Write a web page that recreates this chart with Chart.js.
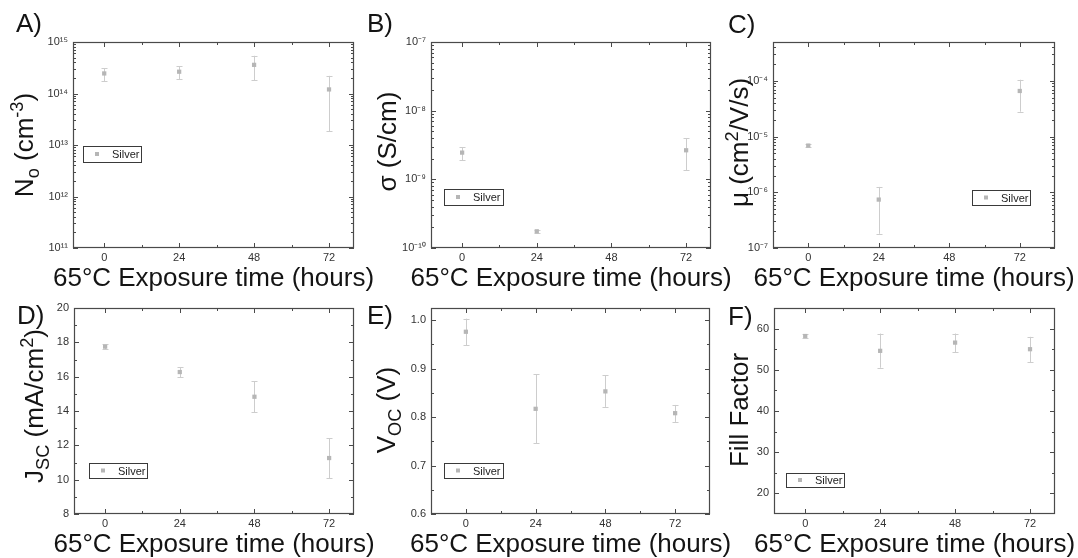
<!DOCTYPE html>
<html><head><meta charset="utf-8">
<script src="https://cdn.jsdelivr.net/npm/chart.js@4.4.1/dist/chart.umd.min.js"></script>
<style>
html,body{margin:0;padding:0;background:#fff;}
#wrap{position:relative;width:1078px;height:558px;overflow:hidden;background:#fff;}
#wrap canvas{position:absolute;left:0;top:0;}
</style></head><body><div id="wrap"></div>
<script>
// ---------------- data ----------------
const hours = [0, 24, 48, 72];
const hoursHall = [0, 24, 72];
const xTickValues = [0, 24, 48, 72];
const xMinorValues = [12, 36, 60];
const seriesLabel = 'Silver';
const xTitle = '65°C Exposure time (hours)';

const carrierDensity     = [2.45e14, 2.65e14, 3.6e14, 1.2e14];
const carrierDensityLow  = [1.75e14, 1.9e14, 1.8e14, 1.85e13];
const carrierDensityHigh = [3.1e14, 3.4e14, 5.4e14, 2.2e14];

const conductivity     = [2.45e-9, 1.75e-10, 2.65e-9];
const conductivityLow  = [1.9e-9, 1.65e-10, 1.35e-9];
const conductivityHigh = [2.95e-9, 1.85e-10, 3.95e-9];

const mobility     = [6.9e-6, 7.4e-7, 6.6e-5];
const mobilityLow  = [6.4e-6, 1.8e-7, 2.8e-5];
const mobilityHigh = [7.4e-6, 1.25e-6, 1.05e-4];

const jsc     = [17.75, 16.27, 14.83, 11.26];
const jscLow  = [17.6, 15.98, 13.94, 10.08];
const jscHigh = [17.9, 16.56, 15.73, 12.41];

const voc     = [0.976, 0.817, 0.853, 0.808];
const vocLow  = [0.948, 0.746, 0.821, 0.790];
const vocHigh = [1.003, 0.888, 0.886, 0.825];

const fillFactor     = [58.2, 54.6, 56.6, 55.0];
const fillFactorLow  = [57.7, 50.5, 54.2, 51.9];
const fillFactorHigh = [58.7, 58.8, 58.8, 58.0];

const yTicksA = [1e11, 1e12, 1e13, 1e14, 1e15];
const yTicksB = [1e-10, 1e-9, 1e-8, 1e-7];
const yTicksC = [1e-7, 1e-6, 1e-5, 1e-4];
const yTicksD = [8, 10, 12, 14, 16, 18, 20];
const yTicksE = [0.6, 0.7, 0.8, 0.9, 1.0];
const yTicksF = [20, 30, 40, 50, 60];
const yMinorD = [9, 11, 13, 15, 17, 19];
const yMinorE = [0.65, 0.75, 0.85, 0.95];
const yMinorF = [25, 35, 45, 55];

// ---------------- helpers ----------------
const FONT = "'Liberation Sans', Arial, Helvetica, sans-serif";
const W = 1078, H = 558;
Chart.defaults.font.family = FONT;

const SUP = {'0':'⁰','1':'¹','2':'²','3':'³','4':'⁴','5':'⁵','6':'⁶','7':'⁷','8':'⁸','9':'⁹','-':'⁻'};
function powLabel(v) {
  const e = String(Math.round(Math.log10(v)));
  return '10' + e.split('').map(c => SUP[c]).join('');
}
function logMinors(min, max) {
  const out = [];
  for (let d = Math.floor(Math.log10(min)); d <= Math.ceil(Math.log10(max)); d++) {
    for (let m = 2; m <= 9; m++) {
      const v = m * Math.pow(10, d);
      if (v > min && v < max) out.push(v);
    }
  }
  return out;
}
function partsWidth(ctx, parts, size) {
  let w = 0;
  for (const [t, mode] of parts) {
    ctx.font = (mode ? size * 0.7 : size) + 'px ' + FONT;
    w += ctx.measureText(t).width;
  }
  return w;
}
function drawParts(ctx, parts, size, x, y) {
  let cx = x;
  for (const [t, mode] of parts) {
    const s = mode ? size * 0.7 : size;
    ctx.font = s + 'px ' + FONT;
    const dy = mode === 'sub' ? size * 0.22 : (mode === 'sup' ? -size * 0.38 : 0);
    ctx.fillText(t, cx, y + dy);
    cx += ctx.measureText(t).width;
  }
}

const decoPlugin = {
  id: 'deco',
  beforeDatasetsDraw(chart) {
    const o = chart.options.plugins.deco;
    const ctx = chart.ctx, xs = chart.scales.x, ys = chart.scales.y;
    ctx.save();
    ctx.strokeStyle = '#cdcdcd';
    ctx.lineWidth = 1;
    chart.data.datasets[0].data.forEach((p, i) => {
      const x = Math.round(xs.getPixelForValue(p.x)) + 0.5;
      const y1 = ys.getPixelForValue(o.low[i]);
      const y2 = ys.getPixelForValue(o.high[i]);
      ctx.beginPath();
      ctx.moveTo(x, y1); ctx.lineTo(x, y2);
      ctx.moveTo(x - 3, Math.round(y1) + 0.5); ctx.lineTo(x + 3, Math.round(y1) + 0.5);
      ctx.moveTo(x - 3, Math.round(y2) + 0.5); ctx.lineTo(x + 3, Math.round(y2) + 0.5);
      ctx.stroke();
    });
    ctx.restore();
  },
  afterDraw(chart) {
    const o = chart.options.plugins.deco;
    const ctx = chart.ctx, ca = chart.chartArea, xs = chart.scales.x, ys = chart.scales.y;
    ctx.save();
    // frame
    ctx.strokeStyle = '#4a4a4a';
    ctx.lineWidth = 1.2;
    ctx.strokeRect(ca.left + 0.5, ca.top + 0.5, ca.right - ca.left - 1, ca.bottom - ca.top - 1);
    ctx.lineWidth = 1;
    const line = (a, b, c, d) => { ctx.beginPath(); ctx.moveTo(a, b); ctx.lineTo(c, d); ctx.stroke(); };
    const vt = (v, len) => { const px = Math.round(xs.getPixelForValue(v)) + 0.5;
      line(px, ca.bottom, px, ca.bottom - len); line(px, ca.top, px, ca.top + len); };
    const ht = (v, len) => { const py = Math.round(ys.getPixelForValue(v)) + 0.5;
      line(ca.left, py, ca.left + len, py); line(ca.right, py, ca.right - len, py); };
    xs.ticks.forEach(t => vt(t.value, 5));
    xMinorValues.forEach(v => vt(v, 3));
    ys.ticks.forEach(t => ht(t.value, 5));
    (o.yMinor || []).forEach(v => ht(v, 3));
    // legend
    const lg = o.legend;
    const lx = ca.left + lg.dx, ly = ca.top + lg.dy;
    ctx.fillStyle = '#fff';
    ctx.fillRect(lx, ly, lg.w, lg.h);
    ctx.strokeStyle = '#3a3a3a';
    ctx.strokeRect(lx + 0.5, ly + 0.5, lg.w, lg.h);
    const ds = chart.data.datasets[0];
    ctx.fillStyle = ds.backgroundColor;
    ctx.fillRect(lx + 12, ly + lg.h / 2 - 2, 4, 4);
    ctx.fillStyle = '#222';
    ctx.font = '11px ' + FONT;
    ctx.textBaseline = 'middle';
    ctx.textAlign = 'left';
    ctx.fillText(ds.label, lx + 29, ly + lg.h / 2 + 1);
    // titles
    ctx.fillStyle = '#141414';
    ctx.textBaseline = 'alphabetic';
    ctx.font = '26px ' + FONT;
    ctx.textAlign = 'center';
    ctx.fillText(xTitle, (ca.left + ca.right) / 2, ca.bottom + 38);
    ctx.textAlign = 'left';
    // panel letter
    ctx.fillText(o.letter, o.letterX, o.letterY);
    // y title rotated
    const tw = partsWidth(ctx, o.yTitle, 26);
    ctx.save();
    ctx.translate(o.yTitleX, o.yTitleCY);
    ctx.rotate(-Math.PI / 2);
    drawParts(ctx, o.yTitle, 26, -tw / 2, 0);
    ctx.restore();
    ctx.restore();
  }
};

function makePanel(p) {
  const cv = document.createElement('canvas');
  cv.width = W; cv.height = H;
  document.getElementById('wrap').appendChild(cv);
  const isLog = p.yType === 'logarithmic';
  new Chart(cv, {
    type: 'scatter',
    data: { datasets: [{
      label: seriesLabel,
      data: p.xs.map((x, i) => ({ x: x, y: p.ys[i] })),
      pointStyle: 'rect', pointRadius: 3, pointHoverRadius: 3,
      backgroundColor: '#b6b6b6', borderWidth: 0, showLine: false
    }] },
    options: {
      responsive: false, animation: false, events: [],
      layout: { padding: { left: 0, top: p.area[2], right: W - p.area[1], bottom: 0 } },
      plugins: {
        legend: { display: false }, tooltip: { enabled: false },
        deco: {
          low: p.low, high: p.high, yMinor: isLog ? logMinors(p.yMin, p.yMax) : p.yMinor,
          legend: p.legend, letter: p.letter, letterX: p.letterXY[0], letterY: p.letterXY[1],
          yTitle: p.yTitle, yTitleX: p.yTitleXY[0], yTitleCY: p.yTitleXY[1]
        }
      },
      scales: {
        x: {
          type: 'linear', position: 'bottom', min: p.xMin, max: p.xMax,
          afterBuildTicks: s => { s.ticks = xTickValues.map(v => ({ value: v })); },
          afterFit: s => { s.height = H - p.area[3]; },
          grid: { display: false, drawTicks: false }, border: { display: false },
          ticks: { padding: 3, autoSkip: false, maxRotation: 0, color: '#333', font: { size: 11, family: FONT },
                   callback: v => String(v) }
        },
        y: {
          type: p.yType, position: 'left', min: p.yMin, max: p.yMax,
          afterBuildTicks: s => { s.ticks = p.yTicks.map(v => ({ value: v })); },
          afterFit: s => { s.width = p.area[0]; },
          grid: { display: false, drawTicks: false }, border: { display: false },
          ticks: { padding: 5, autoSkip: false, color: '#333', font: { size: 11, family: FONT },
                   callback: isLog ? (v => powLabel(v)) : (p.fmt || (v => String(v))) }
        }
      }
    },
    plugins: [decoPlugin]
  });
}

// area: [left, right, top, bottom]
makePanel({ letter: 'A)', letterXY: [16, 32], area: [73, 354, 42, 248],
  xs: hours, ys: carrierDensity, low: carrierDensityLow, high: carrierDensityHigh,
  xMin: -10, xMax: 80, yType: 'logarithmic', yMin: 1e11, yMax: 1e15, yTicks: yTicksA,
  yTitle: [['N', ''], ['o', 'sub'], [' (cm', ''], ['-3', 'sup'], [')', '']], yTitleXY: [33, 145],
  legend: { dx: 10, dy: 104, w: 58, h: 16 } });
makePanel({ letter: 'B)', letterXY: [367, 32], area: [431, 711, 42, 248],
  xs: hoursHall, ys: conductivity, low: conductivityLow, high: conductivityHigh,
  xMin: -10, xMax: 80, yType: 'logarithmic', yMin: 1e-10, yMax: 1e-7, yTicks: yTicksB,
  yTitle: [['σ (S/cm)', '']], yTitleXY: [396, 141.5],
  legend: { dx: 13, dy: 147, w: 59, h: 16 } });
makePanel({ letter: 'C)', letterXY: [728, 33], area: [773, 1055, 42, 248],
  xs: hoursHall, ys: mobility, low: mobilityLow, high: mobilityHigh,
  xMin: -12, xMax: 84, yType: 'logarithmic', yMin: 1e-7, yMax: 5e-4, yTicks: yTicksC,
  yTitle: [['μ (cm', ''], ['2', 'sup'], ['/V/s)', '']], yTitleXY: [748, 142.5],
  legend: { dx: 199, dy: 148, w: 58, h: 15 } });
makePanel({ letter: 'D)', letterXY: [17, 324], area: [74, 354, 308, 514],
  xs: hours, ys: jsc, low: jscLow, high: jscHigh,
  xMin: -10, xMax: 80, yType: 'linear', yMin: 8, yMax: 20, yTicks: yTicksD, yMinor: yMinorD,
  yTitle: [['J', ''], ['SC', 'sub'], [' (mA/cm', ''], ['2', 'sup'], [')', '']], yTitleXY: [43, 406],
  legend: { dx: 15, dy: 155, w: 58, h: 15 } });
makePanel({ letter: 'E)', letterXY: [367, 324], area: [431, 710, 308, 514],
  xs: hours, ys: voc, low: vocLow, high: vocHigh,
  xMin: -12, xMax: 84, yType: 'linear', yMin: 0.6, yMax: 1.025, yTicks: yTicksE, yMinor: yMinorE,
  fmt: v => v.toFixed(1),
  yTitle: [['V', ''], ['OC', 'sub'], [' (V)', '']], yTitleXY: [395, 410],
  legend: { dx: 13, dy: 155, w: 59, h: 15 } });
makePanel({ letter: 'F)', letterXY: [728, 325], area: [774, 1055, 308, 514],
  xs: hours, ys: fillFactor, low: fillFactorLow, high: fillFactorHigh,
  xMin: -10, xMax: 80, yType: 'linear', yMin: 15, yMax: 65, yTicks: yTicksF, yMinor: yMinorF,
  yTitle: [['Fill Factor', '']], yTitleXY: [748, 410],
  legend: { dx: 12, dy: 165, w: 58, h: 14 } });
</script></body></html>
